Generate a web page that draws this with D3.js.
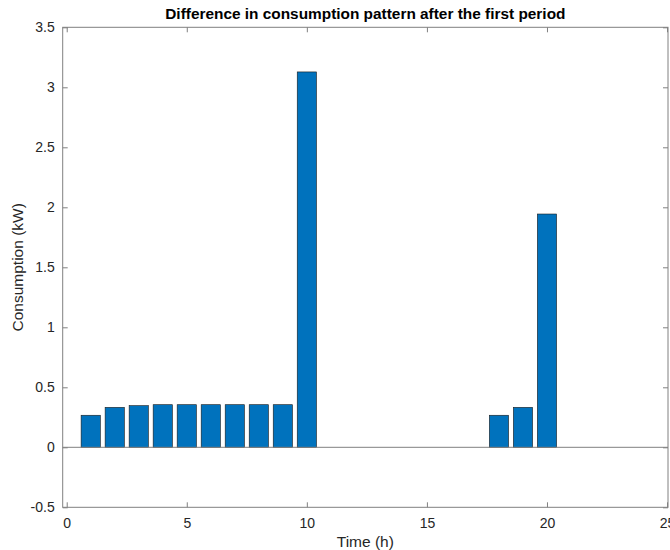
<!DOCTYPE html>
<html>
<head>
<meta charset="utf-8">
<script src="https://cdn.jsdelivr.net/npm/d3@7"></script>
<style>
  body { margin: 0; background: #fff; }
  svg { display: block; font-family: "Liberation Sans", Arial, sans-serif; }
</style>
</head>
<body>
<svg id="chart"></svg>
<script>
let hours = [1, 2, 3, 4, 5, 6, 7, 8, 9, 10, 11, 12, 13, 14, 15, 16, 17, 18, 19, 20, 21, 22, 23, 24];
let consumption = [0.267, 0.333, 0.347, 0.355, 0.355, 0.355, 0.355, 0.355, 0.355, 3.128,
                   0, 0, 0, 0, 0, 0, 0, 0.267, 0.333, 1.944, 0, 0, 0, 0];
let xTicks = [0, 5, 10, 15, 20, 25];
let yTicks = [-0.5, 0, 0.5, 1, 1.5, 2, 2.5, 3, 3.5];

let width = 670;
let height = 550;
let boxLeft = 62.7, boxRight = 668, boxTop = 27.3, boxBottom = 507.3;
let axisColor = '#808080';
let textColor = '#262626';

let svg = d3.select('#chart')
    .attr('width', width)
    .attr('height', height);

// x = 0 sits a few pixels right of the box edge, like in the original
let xScale = d3.scaleLinear()
    .domain([-0.167, 25.04])
    .range([boxLeft, boxRight]);

let yScale = d3.scaleLinear()
    .domain([-0.5, 3.5])
    .range([boxBottom, boxTop]);

let barWidth = xScale(0.8) - xScale(0);

// bars
svg.selectAll('rect.bar')
    .data(hours.map((h, i) => ({ h: h, v: consumption[i] })).filter(d => d.v !== 0))
    .enter()
    .append('rect')
    .attr('class', 'bar')
    .attr('x', d => xScale(d.h) - barWidth / 2)
    .attr('y', d => yScale(d.v))
    .attr('width', barWidth)
    .attr('height', d => yScale(0) - yScale(d.v))
    .attr('fill', '#0072BD')
    .attr('stroke', '#1a1a1a')
    .attr('stroke-width', 0.6);

// baseline at zero
svg.append('line')
    .attr('x1', boxLeft).attr('x2', boxRight)
    .attr('y1', yScale(0)).attr('y2', yScale(0))
    .attr('stroke', axisColor)
    .attr('stroke-width', 1);

// axes (ticks point inward, MATLAB style)
let xAxis = d3.axisBottom(xScale).tickValues(xTicks).tickSize(-5).tickPadding(11).tickFormat(d3.format('d'));
let xAxisTop = d3.axisTop(xScale).tickValues(xTicks).tickSize(-5).tickFormat('');
let yAxis = d3.axisLeft(yScale).tickValues(yTicks).tickSize(-5).tickPadding(8).tickFormat(d => d);
let yAxisRight = d3.axisRight(yScale).tickValues(yTicks).tickSize(-5).tickFormat('');

let gx = svg.append('g').attr('transform', 'translate(0,' + boxBottom + ')').call(xAxis);
let gxt = svg.append('g').attr('transform', 'translate(0,' + boxTop + ')').call(xAxisTop);
let gy = svg.append('g').attr('transform', 'translate(' + boxLeft + ',0)').call(yAxis);
let gyr = svg.append('g').attr('transform', 'translate(' + boxRight + ',0)').call(yAxisRight);

[gx, gxt, gy, gyr].forEach(g => {
    g.select('.domain').remove();
    g.selectAll('.tick line').attr('stroke', axisColor);
    g.selectAll('.tick text').attr('fill', textColor).style('font-size', '14px')
        .style('font-family', '"Liberation Sans", Arial, sans-serif');
});

// box
svg.append('rect')
    .attr('x', boxLeft).attr('y', boxTop)
    .attr('width', boxRight - boxLeft).attr('height', boxBottom - boxTop)
    .attr('fill', 'none')
    .attr('stroke', axisColor)
    .attr('stroke-width', 1);

// labels
svg.append('text')
    .attr('x', (boxLeft + boxRight) / 2)
    .attr('y', 19)
    .attr('text-anchor', 'middle')
    .attr('fill', '#000')
    .style('font-size', '15.4px')
    .style('font-weight', 'bold')
    .text('Difference in consumption pattern after the first period');

svg.append('text')
    .attr('x', (boxLeft + boxRight) / 2)
    .attr('y', 547)
    .attr('text-anchor', 'middle')
    .attr('fill', textColor)
    .style('font-size', '15.5px')
    .text('Time (h)');

svg.append('text')
    .attr('transform', 'translate(23,' + (boxTop + boxBottom) / 2 + ') rotate(-90)')
    .attr('text-anchor', 'middle')
    .attr('fill', textColor)
    .style('font-size', '15.5px')
    .text('Consumption (kW)');
</script>
</body>
</html>
